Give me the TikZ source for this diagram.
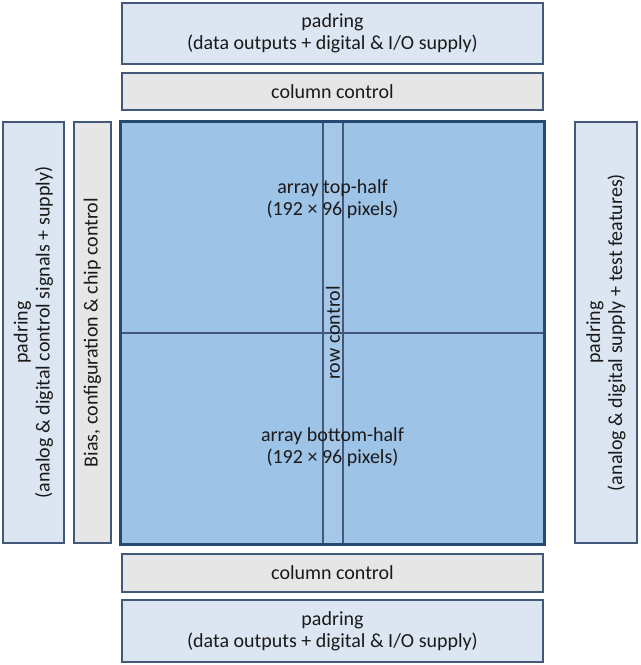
\documentclass[tikz,border=0pt]{standalone}
\usepackage{fontspec}
\setmainfont{Carlito}
\usepackage{tikz}
\usetikzlibrary{fit}
\definecolor{padfill}{HTML}{DCE6F2}
\definecolor{ctrlfill}{HTML}{E7E6E6}
\definecolor{arrayfill}{HTML}{9DC3E6}
\definecolor{rowfill}{HTML}{A6C8E8}
\definecolor{edge}{HTML}{44597A}
\definecolor{arrayedge}{HTML}{274870}
\definecolor{ink}{HTML}{1A1A1A}

\begin{document}
\begin{tikzpicture}[x=0.75pt, y=-0.75pt,
  padbox/.style={draw=edge, fill=padfill, line width=1.1pt, inner sep=0pt},
  ctrlbox/.style={draw=edge, fill=ctrlfill, line width=1.1pt, inner sep=0pt},
  lbl/.style={align=center, text=ink, inner sep=0pt,
    font=\fontsize{15}{16.5}\selectfont}]
\useasboundingbox (0,0) rectangle (640,665);
% helper: a block spanning the corners (x1,y1) and (x2,y2), in pixels
\newcommand{\chipblock}[6]{%
  \node[#2, fit={(#3,#4) (#5,#6)}] (#1) {};
}
% ring of pads and control blocks around the array
\chipblock{padtop}{padbox}{122}{3}{543}{64}
\chipblock{coltop}{ctrlbox}{122}{73}{543}{110}
\chipblock{colbot}{ctrlbox}{122}{554}{543}{592}
\chipblock{padbot}{padbox}{122}{600}{543}{662}
\chipblock{padleft}{padbox}{3}{122}{64}{543}
\chipblock{bias}{ctrlbox}{74}{122}{111}{543}
\chipblock{padright}{padbox}{575}{122}{637}{543}

% pixel array with its row control strip
\chipblock{array}{fill=arrayfill, inner sep=0pt}{121}{122}{544}{544}
\chipblock{rowctl}{draw=edge, fill=rowfill, line width=1pt, inner sep=0pt}{323}{122}{343}{544}
\draw[edge, line width=1pt] (array.west) -- (array.east);
\draw[arrayedge, line width=2.2pt] (array.north west) rectangle (array.south east);

% labels
\node[lbl] (padtoplbl) at (padtop) {padring\\(data outputs + digital \& I/O supply)};
\node[lbl] (coltoplbl) at (coltop) {column control};
\node[lbl] (colbotlbl) at (colbot) {column control};
\node[lbl] (padbotlbl) at (padbot) {padring\\(data outputs + digital \& I/O supply)};
\node[lbl, rotate=90] (padleftlbl) at (padleft) {padring\\(analog \& digital control signals + supply)};
\node[lbl, rotate=90] (biaslbl) at (bias) {Bias, configuration \& chip control};
\node[lbl, rotate=90] (padrightlbl) at (padright) {padring\\(analog \& digital supply + test features)};
\node[lbl, rotate=90] (rowctllbl) at (rowctl) {row control};
\node[lbl] (toplbl) at (332.5,199) {array top-half\\(192 × 96 pixels)};
\node[lbl] (botlbl) at (332.5,447) {array bottom-half\\(192 × 96 pixels)};
\end{tikzpicture}
\end{document}
